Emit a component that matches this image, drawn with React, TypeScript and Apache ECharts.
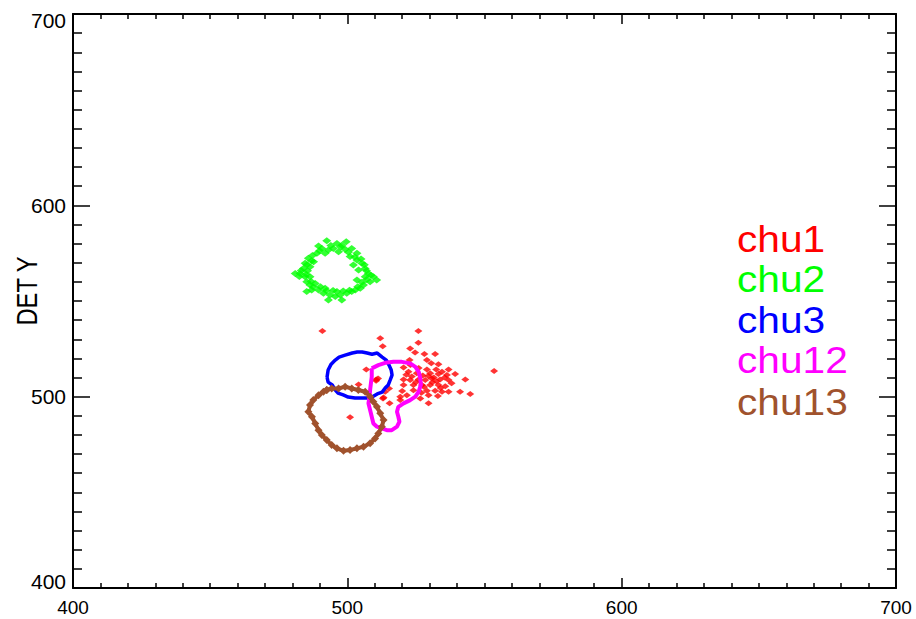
import React, { useEffect, useRef } from "react";
import * as echarts from "echarts";

// ---- data ----
const xRange = [400, 700];
const yRange = [400, 700];
const tickInterval = 100;
const yAxisTitle = "DET Y";
const seriesNames = ["chu1", "chu2", "chu3", "chu12", "chu13"];
const seriesColors = ["#ff0000", "#00ff00", "#0000ff", "#ff00ff", "#a0522d"];

const chu1: number[][] = [
  [525.9, 534.3], [512.0, 530.5], [525.9, 528.2], [512.9, 526.4], [522.9, 525.2],
  [524.7, 523.1], [528.1, 522.3], [532.0, 522.3], [522.7, 519.1], [529.0, 519.1],
  [530.6, 517.4], [533.2, 516.9], [506.9, 514.2], [529.0, 514.2], [532.4, 514.2],
  [536.9, 514.2], [520.5, 515.3], [522.3, 513.0], [525.3, 512.2], [530.2, 512.2],
  [533.2, 511.8], [536.3, 511.3], [539.3, 511.8], [510.5, 509.0], [520.5, 509.0],
  [522.9, 508.7], [526.0, 509.0], [528.4, 508.7], [530.8, 509.5], [533.8, 509.0],
  [536.9, 508.7], [543.0, 509.0], [520.5, 506.1], [524.1, 506.1], [527.2, 506.1],
  [530.2, 506.1], [533.2, 506.1], [535.7, 505.5], [524.1, 503.4], [529.0, 503.1],
  [532.0, 503.1], [534.5, 502.6], [536.9, 502.6], [541.1, 502.6], [544.8, 501.4],
  [519.3, 500.0], [521.7, 500.8], [529.6, 500.8], [533.0, 500.3], [513.2, 499.6],
  [515.4, 496.5], [519.3, 498.2], [529.6, 496.5], [526.6, 499.1], [490.9, 534.3],
  [553.5, 513.4], [501.0, 489.2], [504.1, 506.4], [513.8, 502.6], [515.2, 504.3],
  [513.0, 499.1], [527.5, 511.0], [531.5, 510.0], [534.5, 513.0], [523.5, 510.5],
  [528.0, 505.0], [531.0, 507.5], [526.0, 515.0], [510.5, 508.3], [511.2, 509.5],
  [521.5, 511.5], [525.0, 507.5], [532.5, 508.0], [529.5, 510.8], [534.0, 504.5],
  [527.0, 502.0], [520.0, 503.0], [523.0, 516.5], [535.5, 510.0], [538.0, 507.0]
];

const chu2: number[][] = [
  [492.5, 581.5], [496.2, 580.1], [498.0, 579.2], [499.6, 581.0], [501.6, 577.5],
  [503.5, 574.9], [499.2, 577.0], [494.9, 577.5], [490.7, 577.5], [488.9, 574.9],
  [489.5, 578.7], [491.9, 574.9], [485.8, 572.3], [484.6, 569.7], [484.0, 567.0],
  [481.0, 564.4], [482.8, 564.4], [484.6, 562.7], [485.2, 560.1], [486.4, 558.3],
  [488.3, 559.2], [485.2, 554.9], [487.0, 555.7], [489.5, 555.7], [491.3, 554.0],
  [493.7, 553.1], [495.6, 552.3], [497.4, 553.1], [499.8, 554.0], [501.6, 554.9],
  [502.9, 555.7], [493.1, 550.5], [498.0, 550.5], [505.3, 569.7], [506.5, 567.0],
  [507.7, 564.4], [509.5, 562.7], [510.7, 561.0], [508.3, 560.1], [505.9, 558.3],
  [504.7, 556.6], [503.5, 571.4], [486.4, 567.9], [487.7, 570.5], [493.1, 576.6],
  [496.8, 575.8], [501.0, 573.2], [504.1, 566.2], [503.5, 561.0], [491.9, 556.6],
  [496.2, 554.9], [486.4, 562.7], [506.5, 562.7], [502.2, 568.8], [487.3, 573.8],
  [489.9, 576.2], [494.0, 579.0], [497.6, 578.2], [500.4, 575.5], [502.7, 573.0],
  [505.0, 572.0], [506.2, 569.0], [507.0, 565.8], [508.6, 563.5], [507.1, 561.2],
  [505.3, 559.8], [503.8, 557.5], [500.8, 555.6], [498.5, 555.2], [494.8, 555.5],
  [492.4, 555.3], [490.2, 557.4], [487.6, 557.3], [486.8, 560.2], [485.0, 564.0],
  [485.5, 565.8], [485.3, 569.0], [487.0, 571.0], [483.2, 566.0], [482.5, 562.8]
];

const chu3: number[][] = [
  [492.6, 510.2], [493.0, 513.9], [494.1, 517.0], [495.6, 519.1], [497.0, 520.7],
  [499.2, 521.7], [501.8, 522.8], [503.6, 523.3], [505.4, 523.3], [507.2, 522.8],
  [509.0, 522.2], [510.9, 522.8], [512.7, 520.7], [514.2, 519.1], [515.2, 516.5],
  [516.0, 513.9], [516.3, 511.3], [515.6, 508.6], [514.9, 506.1], [513.8, 504.5],
  [512.7, 502.4], [510.9, 501.4], [509.0, 499.8], [507.2, 499.3], [505.0, 499.3],
  [502.8, 499.3], [500.3, 499.8], [498.5, 500.9], [496.6, 501.9], [495.6, 503.4],
  [494.5, 506.1], [493.0, 507.6], [492.6, 510.2]
];

const chu12: number[][] = [
  [508.9, 514.8], [511.3, 516.5], [513.8, 517.7], [516.8, 518.2], [519.9, 518.2],
  [522.9, 517.4], [524.8, 515.6], [526.0, 513.0], [526.6, 509.6], [526.8, 506.1],
  [526.0, 502.6], [524.8, 500.0], [522.9, 498.2], [520.5, 496.5], [518.6, 494.7],
  [518.1, 492.1], [518.6, 489.5], [519.0, 486.9], [518.1, 484.3], [516.2, 482.5],
  [514.4, 482.5], [512.6, 483.4], [510.8, 484.3], [509.5, 486.0], [508.9, 489.5],
  [508.3, 493.0], [507.7, 496.5], [508.1, 500.0], [508.3, 503.5], [508.6, 507.0],
  [508.9, 510.4], [508.9, 514.8]
];

const chu13: number[][] = [
  [492.5, 503.5], [494.3, 504.3], [496.8, 504.3], [499.2, 505.2], [501.6, 504.3],
  [504.0, 503.5], [506.5, 502.6], [508.3, 500.0], [509.5, 497.3], [510.8, 494.7],
  [512.0, 491.3], [513.2, 487.8], [512.6, 484.3], [511.3, 480.8], [510.1, 478.2],
  [508.3, 475.6], [505.9, 473.8], [503.5, 473.0], [501.0, 472.1], [498.6, 471.7],
  [496.2, 473.0], [494.3, 474.7], [492.5, 477.3], [490.7, 479.9], [489.5, 482.5],
  [488.3, 486.0], [487.1, 489.5], [485.8, 492.1], [486.4, 495.6], [487.6, 498.2],
  [489.5, 500.8], [491.3, 502.6], [492.5, 503.5]
];

const FONT = "'Liberation Sans', Arial, Helvetica, sans-serif";

function xAxisCfg(pos: "bottom" | "top", labels: boolean) {
  return {
    type: "value",
    position: pos,
    min: xRange[0],
    max: xRange[1],
    interval: tickInterval,
    splitLine: { show: false },
    axisLine: { show: true, onZero: false, lineStyle: { color: "#000", width: 2 } },
    axisTick: { show: true, inside: true, length: 10, lineStyle: { color: "#000", width: 1.5 } },
    minorTick: { show: true, splitNumber: 10, length: 5, lineStyle: { color: "#000", width: 1.5 } },
    axisLabel: { show: labels, color: "#000", fontSize: 19, lineHeight: 16, fontFamily: FONT, margin: 11 },
  };
}

function yAxisCfg(pos: "left" | "right", labels: boolean) {
  return {
    type: "value",
    position: pos,
    min: yRange[0],
    max: yRange[1],
    interval: tickInterval,
    splitLine: { show: false },
    axisLine: { show: true, onZero: false, lineStyle: { color: "#000", width: 2 } },
    axisTick: { show: true, inside: true, length: 17, lineStyle: { color: "#000", width: 1.5 } },
    minorTick: { show: true, splitNumber: 10, length: 9, lineStyle: { color: "#000", width: 1.5 } },
    axisLabel: {
      show: labels,
      color: "#000",
      fontSize: 21,
      fontFamily: FONT,
      margin: 7,
      formatter: (v: number) =>
        v === yRange[1] ? `{top|${v}}` : v === yRange[0] ? `{bot|${v}}` : `{n|${v}}`,
      rich: {
        top: { fontSize: 21, fontFamily: FONT, color: "#000", padding: [12, 0, 0, 0] },
        bot: { fontSize: 21, fontFamily: FONT, color: "#000", padding: [0, 0, 13, 0] },
        n: { fontSize: 21, fontFamily: FONT, color: "#000" },
      },
    },
  };
}

export default function App() {
  const ref = useRef<HTMLDivElement>(null);
  useEffect(() => {
    document.body.style.margin = "0";
    if (!ref.current) return;
    const chart = echarts.init(ref.current, null, { renderer: "svg" });
    const legendBaselines = [239, 279, 320, 360, 402];
    chart.setOption({
      animation: false,
      backgroundColor: "#fff",
      grid: { left: 73, right: 20, top: 14, bottom: 31, containLabel: false, outerBoundsMode: "none" },
      xAxis: [xAxisCfg("bottom", true), xAxisCfg("top", false)],
      yAxis: [yAxisCfg("left", true), yAxisCfg("right", false)],
      series: [
        {
          name: seriesNames[0], type: "scatter", data: chu1, symbol: "diamond",
          symbolSize: [8, 6], itemStyle: { color: seriesColors[0] }, xAxisIndex: 0, yAxisIndex: 0,
        },
        {
          name: seriesNames[1], type: "scatter", data: chu2, symbol: "diamond",
          symbolSize: [9, 7], itemStyle: { color: seriesColors[1] }, xAxisIndex: 0, yAxisIndex: 0,
        },
        {
          name: seriesNames[2], type: "line", data: chu3, showSymbol: false, smooth: false,
          lineStyle: { color: seriesColors[2], width: 3.5 }, itemStyle: { color: seriesColors[2] },
        },
        {
          name: seriesNames[3], type: "line", data: chu12, showSymbol: false, smooth: false,
          lineStyle: { color: seriesColors[3], width: 4 }, itemStyle: { color: seriesColors[3] },
        },
        {
          name: seriesNames[4], type: "line", data: chu13, showSymbol: true, symbol: "diamond",
          symbolSize: 8, smooth: false,
          lineStyle: { color: seriesColors[4], width: 4 }, itemStyle: { color: seriesColors[4] },
        },
      ],
      graphic: [
        {
          type: "text",
          x: 27,
          y: 291,
          rotation: Math.PI / 2,
          scaleX: 0.82,
          style: {
            text: yAxisTitle,
            fill: "#000",
            font: `29px 'Liberation Sans', Arial, sans-serif`,
            textAlign: "center",
            textVerticalAlign: "middle",
          },
        },
        ...seriesNames.map((n, i) => ({
          type: "text",
          x: 737,
          y: legendBaselines[i],
          scaleX: 1.13,
          style: {
            text: n,
            fill: seriesColors[i],
            font: `36px ${FONT}`,
            textAlign: "left",
            textVerticalAlign: "middle",
          },
        })),
      ],
    });
    return () => chart.dispose();
  }, []);
  return <div ref={ref} style={{ width: 916, height: 619 }} />;
}
